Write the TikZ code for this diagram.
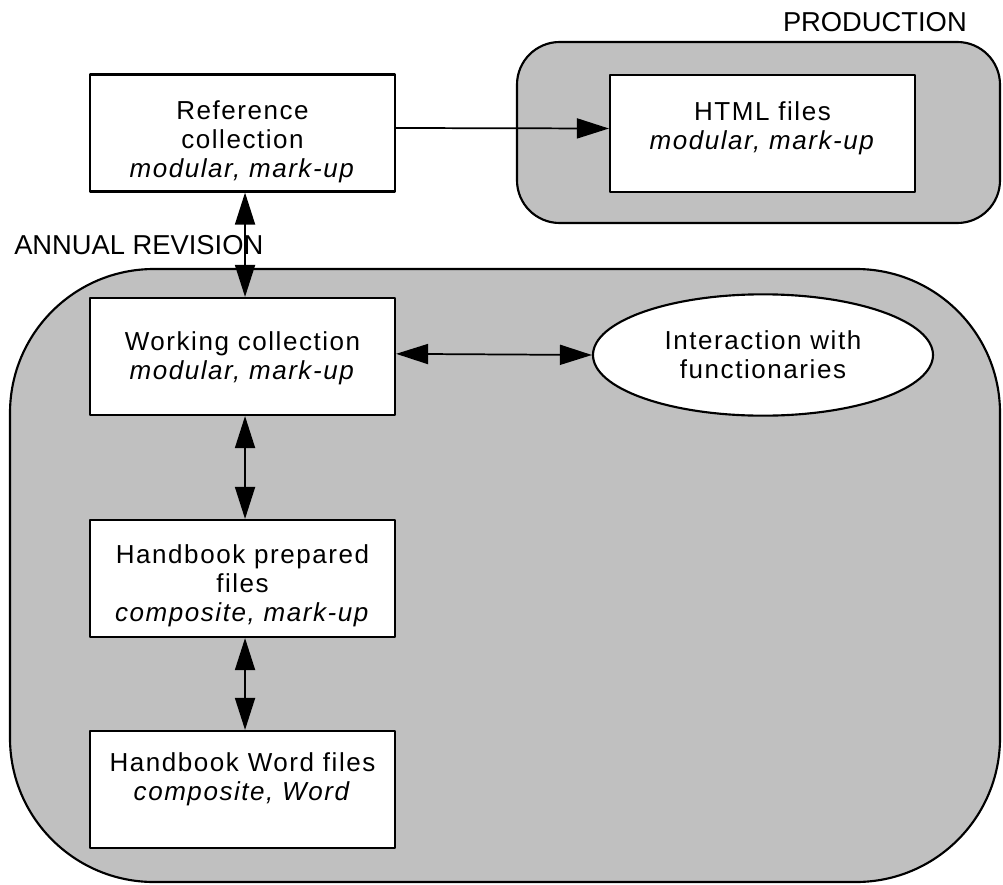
\documentclass[tikz,border=0pt]{standalone}
\usepackage{fontspec}
\setmainfont{Liberation Sans}
\newfontfamily\boxfont[LetterSpace=6]{Liberation Sans}
\usetikzlibrary{arrows.meta, positioning, shapes}
\definecolor{region_gray}{RGB}{192,192,192}
\tikzset{
	filebox/.style={draw, fill=white, line width=1.6pt, minimum width=228.75pt, minimum height=87.75pt, inner sep=0pt},
	boxtext/.style={inner sep=0pt, align=center, font=\boxfont\fontsize{19.5}{21.75}\selectfont},
	talk/.style={ellipse, draw, fill=white, line width=1.6pt, minimum width=255pt, minimum height=91pt, inner sep=0pt, boxtext},
	region/.style={draw, fill=region_gray, line width=1.6pt},
	phase/.style={inner sep=0pt, font=\fontsize{20.5}{22}\selectfont},
	head/.style={line width=1.3pt, -{Triangle[length=24pt, width=15pt]}},
	link/.style={line width=1.3pt, {Triangle[length=24pt, width=15pt]}-{Triangle[length=24pt, width=15pt]}}
}

\begin{document}
\begin{tikzpicture}[x=0.75pt, y=-0.75pt, line join=round]
	\useasboundingbox (0,0) rectangle (1003,885);
	% the two phases
	\draw[region, rounded corners=32pt] (517,42) rectangle (1000,223);
	\draw[region, rounded corners=108pt] (10,269) rectangle (1000,882);
	\node[phase, anchor=east] (production) at (967,22) {PRODUCTION};
	\node[phase, anchor=west] (annual) at (14,245) {ANNUAL REVISION};

	% files
	\node[filebox] (reference) at (242.5,133) {};
	\node[filebox] (html) at (762.5,133.5) {};
	\node[filebox] (working) at (242.5,356.5) {};
	\node[filebox] (prepared) at (242.5,578.5) {};
	\node[filebox] (word) at (242.5,789.5) {};
	\node[talk] (interaction) at (763,355) {Interaction with\\functionaries};

	\node[boxtext, below=19.9pt of reference.north] (reftext) {Reference\\collection\\\textit{modular, mark-up}};
	\node[boxtext, below=20.6pt of html.north] (htmltext) {HTML files\\\textit{modular, mark-up}};
	\node[boxtext, below=25.9pt of working.north] (worktext) {Working collection\\\textit{modular, mark-up}};
	\node[boxtext, below=19.1pt of prepared.north] (preptext) {Handbook prepared\\files\\\textit{composite, mark-up}};
	\node[boxtext, below=16.9pt of word.north] (wordtext) {Handbook Word files\\\textit{composite, Word}};

	% connectors
	\draw[head] ([yshift=3.75pt]reference.east) -- ([yshift=3.75pt]html.west);
	\draw[link] ([xshift=1.9pt]reference.south) -- ([xshift=1.9pt]working.north);
	\draw[link] ([yshift=2pt]working.east) -- (interaction.west);
	\draw[link] ([xshift=1.9pt]working.south) -- ([xshift=1.9pt]prepared.north);
	\draw[link] ([xshift=1.9pt]prepared.south) -- ([xshift=1.9pt]word.north);
\end{tikzpicture}
\end{document}
